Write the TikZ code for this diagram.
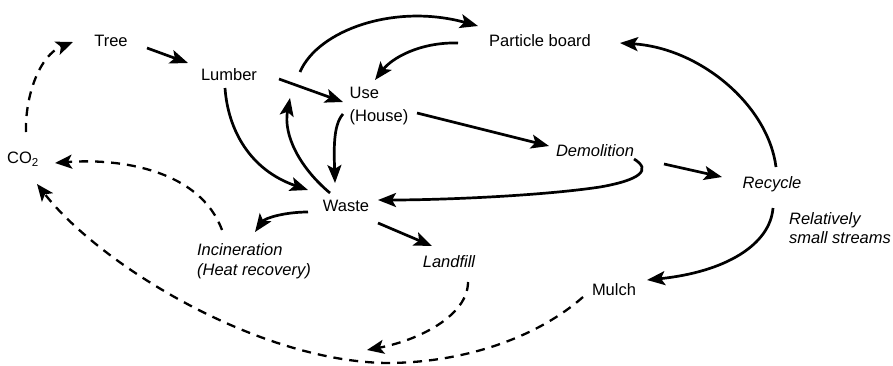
\documentclass[tikz,border=0pt]{standalone}
\usepackage{fontspec}
\setmainfont{Liberation Sans}
\usetikzlibrary{arrows.meta,calc}

\tikzset{
  lbl/.style={inner sep=0pt, font=\fontsize{16.5}{20}\selectfont},
  ilbl/.style={lbl, font=\fontsize{16.5}{20}\selectfont\itshape},
  flow/.style={line width=2.7pt, -{Stealth[length=18pt,width=14pt,inset=4pt]}},
  emit/.style={line width=2.3pt, dash pattern=on 9pt off 7pt,
               -{Stealth[length=17pt,width=14pt,inset=4pt]}},
}

\begin{document}
\begin{tikzpicture}[x=1pt,y=-1pt]
  \fill[white] (0,0) rectangle (893,365);
  \useasboundingbox (0,0) rectangle (893,365);

  % materials and stages
  \node[lbl]  (tree)     at (111,41)  {Tree};
  \node[lbl]  (lumber)   at (229,75)  {Lumber};
  \node[lbl, align=left, font=\fontsize{16.5}{23}\selectfont] (use) at (379,106) {Use\\(House)};
  \node[lbl]  (pboard)   at (540,41)  {Particle board};
  \node[ilbl] (demo)     at (595,151) {Demolition};
  \node[ilbl] (recycle)  at (772,184) {Recycle};
  \node[ilbl, align=left, font=\fontsize{16.5}{19}\selectfont\itshape] (streams) at (840,228) {Relatively\\small streams};
  \node[lbl]  (mulch)    at (614,290) {Mulch};
  \node[ilbl] (landfill) at (449,262) {Landfill};
  \node[lbl]  (waste)    at (346,206) {Waste};
  \node[ilbl, align=left, font=\fontsize{16.5}{20}\selectfont\itshape] (incin) at (254,261) {Incineration\\(Heat recovery)};
  \node[lbl]  (co2)      at (23,159)  {CO\textsubscript{2}};
  \coordinate (sink) at (367,350);

  % material flows
  \draw[flow] ($(tree)+(36,7)$) -- ($(lumber)+(-41,-12)$);
  \draw[flow] ($(lumber)+(50,4)$) -- ($(use)+(-36,-4)$);
  \draw[flow] ($(lumber)+(71,-3)$) .. controls (318,30) and (395,3) .. ($(pboard)+(-62,-15)$);
  \draw[flow] ($(pboard)+(-82,2)$) .. controls (420,42) and (392,58) .. ($(use)+(-4,-26)$);
  \draw[flow] ($(use)+(-36,8)$) .. controls (333,125) and (334,150) .. ($(waste)+(-11,-23)$);
  \draw[flow] ($(waste)+(-16,-13)$) .. controls (300,168) and (283,135) .. ($(use)+(-89,-8)$);
  \draw[flow] ($(lumber)+(-4,13)$) .. controls (228,130) and (250,170) .. ($(waste)+(-38,-16)$);
  \draw[flow] ($(use)+(38,7)$) -- ($(demo)+(-46,-5)$);
  \draw[flow] ($(demo)+(39,8)$) .. controls (652,170) and (640,180) .. (600,187)
              .. controls (540,196) and (440,200) .. ($(waste)+(32,-6)$);
  \draw[flow] ($(demo)+(69,13)$) -- ($(recycle)+(-50,-7)$);
  \draw[flow] ($(recycle)+(4,-17)$) .. controls (768,105) and (700,48) .. ($(pboard)+(80,2)$);
  \draw[flow] ($(recycle)+(1,24)$) .. controls (770,245) and (725,272) .. ($(mulch)+(33,-10)$);
  \draw[flow] ($(waste)+(-38,6)$) .. controls (285,212) and (265,218) .. ($(incin)+(1,-29)$);
  \draw[flow] ($(waste)+(32,17)$) -- ($(landfill)+(-17,-16)$);

  % carbon returns
  \draw[emit] ($(co2)+(3,-27)$) .. controls (25,95) and (40,55) .. ($(tree)+(-38,1)$);
  \draw[emit] ($(incin)+(-32,-31)$) .. controls (200,170) and (120,158) .. ($(co2)+(32,4)$);
  \draw[emit] ($(landfill)+(19,20)$) .. controls (468,315) and (420,340) .. (sink);
  \draw[emit] ($(mulch)+(-31,7)$) .. controls (540,335) and (470,362) .. (390,363)
              .. controls (260,363) and (100,265) .. ($(co2)+(14,25)$);
\end{tikzpicture}
\end{document}
